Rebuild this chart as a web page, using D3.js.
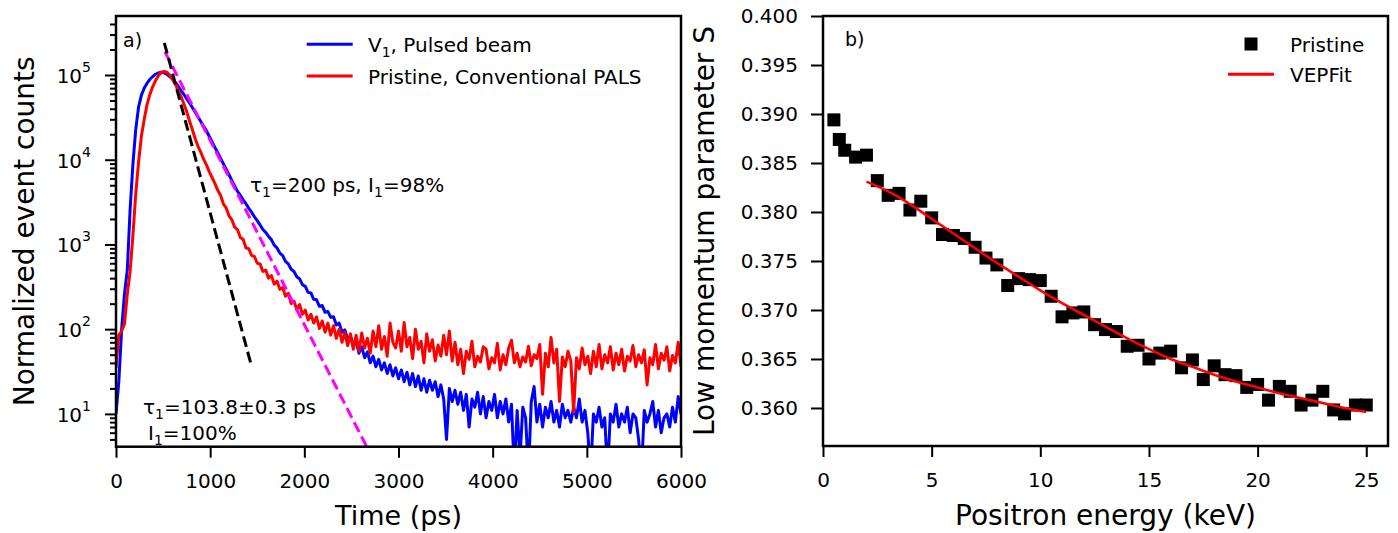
<!DOCTYPE html>
<html><head><meta charset="utf-8">
<script src="https://cdn.jsdelivr.net/npm/d3@7"></script>
<style>
body{margin:0;background:#fff}
svg text{font-family:"DejaVu Sans",sans-serif;fill:#000}
</style>
</head><body>
<svg id="chart" width="1398" height="533"></svg>
<script>
// ---------------- Panel a) data ----------------
const timePs = [
 0,30,60,90,120,150,180,210,240,270,
 300,330,360,390,420,450,480,510,540,570,
 600,630,660,690,720,750,780,810,840,870,
 900,930,960,990,1020,1050,1080,1110,1140,1170,
 1200,1230,1260,1290,1320,1350,1380,1410,1440,1470,
 1500,1530,1560,1590,1620,1650,1680,1710,1740,1770,
 1800,1830,1860,1890,1920,1950,1980,2010,2040,2070,
 2100,2130,2160,2190,2220,2250,2280,2310,2340,2370,
 2400,2430,2460,2490,2520,2550,2580,2610,2640,2670,
 2700,2730,2760,2790,2820,2850,2880,2910,2940,2970,
 3000,3030,3060,3090,3120,3150,3180,3210,3240,3270,
 3300,3330,3360,3390,3420,3450,3480,3510,3540,3570,
 3600,3630,3660,3690,3720,3750,3780,3810,3840,3870,
 3900,3930,3960,3990,4020,4050,4080,4110,4140,4170,
 4200,4230,4260,4290,4320,4350,4380,4410,4440,4470,
 4500,4530,4560,4590,4620,4650,4680,4710,4740,4770,
 4800,4830,4860,4890,4920,4950,4980,5010,5040,5070,
 5100,5130,5160,5190,5220,5250,5280,5310,5340,5370,
 5400,5430,5460,5490,5520,5550,5580,5610,5640,5670,
 5700,5730,5760,5790,5820,5850,5880,5910,5940,5970,
 6000
];
const v1PulsedCounts = [
 10,24,100,260,500,2600,9000,23000,42000,58000,
 70000,80000,89000,96000,102000,106000,108000,106000,102000,96000,
 89000,82000,74000,66000,59200,52700,47000,41400,36500,32100,
 28300,24900,22000,18900,16300,14000,12100,10400,8950,7710,
 6640,5710,4910,4230,3810,3360,3030,2670,2400,2120,
 1910,1700,1500,1390,1240,1140,980,910,790,740,
 630,590,510,480,415,392,335,320,272,268,
 225,222,186,190,158,162,138,140,112,118,
 92,98,76,82,64,72,52,62,46,54,
 40,48,36,44,33,40,30,38,28,35,
 26,33,24,31,22,30,21,28,19,26,
 18,25,19,24,16,22,15,5,20,14,
 19,13,18,11,17,7,15,12,18,10,
 16,9,14,11,17,9,14,10,15,8,
 13,2,11,3,12,9,2,14,21,8,
 13,7,12,9,14,8,11,7,13,9,
 11,8,12,9,15,8,11,6,2,10,
 8,12,7,9,2,10,8,13,7,10,
 8,12,6,10,9,5,2,11,8,10,
 14,7,11,6,9,10,7,12,8,16,
 10
];
const pristineConvCounts = [
 35,85,95,115,260,480,1300,4000,9500,19000,
 30000,45000,59000,73000,86000,98000,107000,110000,108000,100000,
 89000,78000,66000,56000,45700,37200,28800,22900,17800,14500,
 12300,10200,8700,7240,6170,5250,4370,3800,3020,2700,
 2180,1960,1600,1500,1210,1150,910,890,740,720,
 600,590,480,500,400,430,340,370,295,310,
 245,265,200,215,170,195,150,168,128,150,
 118,140,102,125,92,118,85,110,78,100,
 70,92,64,88,58,85,55,90,60,78,
 52,95,62,110,58,82,48,118,70,60,
 95,55,120,62,80,45,100,58,72,40,
 88,55,75,42,65,48,85,50,95,42,
 70,38,58,30,55,44,72,36,48,41,
 62,58,34,46,40,68,33,50,38,60,
 74,40,52,36,47,41,63,37,50,45,
 66,17,52,36,80,40,58,14,47,36,
 55,42,10.5,46,34,60,38,48,30,55,
 36,66,34,50,40,62,33,52,38,58,
 32,48,42,64,36,50,40,57,22,46,
 38,66,34,52,43,62,32,49,40,70,
 36
];
// single-exponential guide lines: [time ps, counts]
const fastFitLine = [[513, 240000], [1441, 36]];   // tau1 = 103.8 ps
const slowFitLine = [[520, 188000], [2662, 4.1]];  // tau1 = 200 ps
const timeTicks = [0, 1000, 2000, 3000, 4000, 5000, 6000];
const countTicks = [10, 100, 1000, 10000, 100000];
const countTickExp = ["1", "2", "3", "4", "5"];

// ---------------- Panel b) data ----------------
const energyKeV = [
 0.5,0.75,1.0,1.5,2.0,2.5,3.0,3.5,4.0,4.5,
 5.0,5.5,6.0,6.5,7.0,7.5,8.0,8.5,9.0,9.5,
 10.0,10.5,11.0,11.5,12.0,12.5,13.0,13.5,14.0,14.5,
 15.0,15.5,16.0,16.5,17.0,17.5,18.0,18.5,19.0,19.5,
 20.0,20.5,21.0,21.5,22.0,22.5,23.0,23.5,24.0,24.5,25.0
];
const sParam = [
 0.3894,0.3874,0.3863,0.3856,0.3858,0.3832,0.3817,0.3819,0.3802,0.3811,
 0.3794,0.3777,0.3776,0.3773,0.3764,0.3753,0.3746,0.3725,0.3732,0.3731,
 0.3730,0.3714,0.3693,0.3697,0.3698,0.3685,0.3680,0.3678,0.3663,0.3664,
 0.3650,0.3656,0.3658,0.3641,0.3649,0.3629,0.3643,0.3634,0.3633,0.3621,
 0.3624,0.3608,0.3622,0.3617,0.3603,0.3608,0.3617,0.3598,0.3594,0.3603,0.3603
];
const fitEnergyKeV = [2,3,4,5,6,7,8,9,10,11,12,13,14,15,16,17,18,19,20,21,22,23,24,25];
const fitS = [
 0.3831,0.3821,0.3808,0.3793,0.3778,0.3763,0.3748,0.3734,0.3720,0.3707,
 0.3695,0.3683,0.3671,0.3660,0.3650,0.3642,0.3634,0.3627,0.3621,0.3615,
 0.3610,0.3605,0.3600,0.3596
];
const energyTicks = [0, 5, 10, 15, 20, 25];
const sTicks = [0.360, 0.365, 0.370, 0.375, 0.380, 0.385, 0.390, 0.395, 0.400];

// ---------------- layout ----------------
const svg = d3.select("#chart");
const PA = {x0: 116, x1: 681, y0: 16, y1: 446.7};
const PB = {x0: 823, x1: 1388, y0: 16, y1: 446};

const xT = d3.scaleLinear().domain([0, 6000]).range([PA.x0, PA.x1]);
const yC = d3.scaleLog().domain([4.1, 4.97e5]).range([PA.y1, PA.y0]);
const xE = d3.scaleLinear().domain([0, 26]).range([PB.x0, PB.x1]);
const yS = d3.scaleLinear().domain([0.35612, 0.400]).range([PB.y1, PB.y0]);

const defs = svg.append("defs");
defs.append("clipPath").attr("id", "clipA").append("rect")
  .attr("x", PA.x0).attr("y", PA.y0).attr("width", PA.x1 - PA.x0).attr("height", PA.y1 - PA.y0);
defs.append("clipPath").attr("id", "clipB").append("rect")
  .attr("x", PB.x0).attr("y", PB.y0).attr("width", PB.x1 - PB.x0).attr("height", PB.y1 - PB.y0);

function styleAxis(g) {
  g.select(".domain").remove();
  g.selectAll(".tick line").attr("stroke", "#000").attr("stroke-width", 2);
  g.selectAll(".tick text").attr("font-size", 20).attr("fill", "#000")
    .attr("font-family", "DejaVu Sans");
}

// text helper: parts = [[text, "n"|"sub"|"sup"], ...]
function richText(g, x, y, parts, size, color, anchor) {
  const t = g.append("text").attr("x", x).attr("y", y).attr("font-size", size)
    .attr("fill", color || "#000").attr("text-anchor", anchor || "start");
  let shift = 0;
  parts.forEach(([s, kind]) => {
    let target = 0, fs = size;
    if (kind === "sub") { target = size * 0.26; fs = size * 0.7; }
    if (kind === "sup") { target = -size * 0.55; fs = size * 0.7; }
    t.append("tspan").attr("dy", target - shift).attr("font-size", fs).text(s);
    shift = target;
  });
  return t;
}

// ---------------- Panel a) ----------------
const gA = svg.append("g");
const seriesA = [
  {counts: v1PulsedCounts, color: "#0000ff"},
  {counts: pristineConvCounts, color: "#ff0000"}
];
const lineA = d3.line().x(d => xT(d[0])).y(d => yC(d[1]));
const plotA = gA.append("g").attr("clip-path", "url(#clipA)");
seriesA.forEach(s => {
  plotA.append("path").datum(timePs.map((t, i) => [t, s.counts[i]]))
    .attr("d", lineA).attr("fill", "none").attr("stroke", s.color)
    .attr("stroke-width", 3).attr("stroke-linejoin", "round");
});
plotA.append("path").datum(slowFitLine).attr("d", lineA).attr("fill", "none")
  .attr("stroke", "#ff00ff").attr("stroke-width", 3).attr("stroke-dasharray", "11,5");
plotA.append("path").datum(fastFitLine).attr("d", lineA).attr("fill", "none")
  .attr("stroke", "#000").attr("stroke-width", 3).attr("stroke-dasharray", "11,5");

// axes a)
gA.append("g").attr("transform", `translate(0,${PA.y1})`)
  .call(d3.axisBottom(xT).tickValues(timeTicks).tickSize(11).tickPadding(16).tickFormat(d3.format("d")))
  .call(styleAxis);
const minorCounts = [];
[0, 1, 2, 3, 4, 5].forEach(e => [2,3,4,5,6,7,8,9].forEach(m => {
  const v = m * Math.pow(10, e);
  if (v >= 4.1 && v <= 4.97e5) minorCounts.push(v);
}));
gA.append("g").attr("transform", `translate(${PA.x0},0)`)
  .call(d3.axisLeft(yC).tickValues(minorCounts).tickSize(6).tickFormat(""))
  .call(styleAxis);
gA.append("g").attr("transform", `translate(${PA.x0},0)`)
  .call(d3.axisLeft(yC).tickValues(countTicks).tickSize(11).tickFormat(""))
  .call(styleAxis);
countTicks.forEach((v, i) => {
  richText(gA, 91, yC(v) + 8, [["10", "n"], [countTickExp[i], "sup"]], 20, "#000", "end");
});
gA.append("rect").attr("x", PA.x0).attr("y", PA.y0)
  .attr("width", PA.x1 - PA.x0).attr("height", PA.y1 - PA.y0)
  .attr("fill", "none").attr("stroke", "#000").attr("stroke-width", 2.5);

gA.append("text").attr("x", PA.x0 + 7).attr("y", 47).attr("font-size", 19).text("a)");
richText(gA, 250, 192, [["τ", "n"], ["1", "sub"], ["=200 ps, I", "n"], ["1", "sub"], ["=98%", "n"]], 20, "#ff00ff");
richText(gA, 143, 414, [["τ", "n"], ["1", "sub"], ["=103.8±0.3 ps", "n"]], 20, "#000");
richText(gA, 148, 440, [["I", "n"], ["1", "sub"], ["=100%", "n"]], 20, "#000");

// legend a)
const legA = [
  {color: "#0000ff", parts: [["V", "n"], ["1", "sub"], [", Pulsed beam", "n"]], y: 44.3},
  {color: "#ff0000", parts: [["Pristine, Conventional PALS", "n"]], y: 76}
];
legA.forEach(l => {
  gA.append("line").attr("x1", 306.7).attr("x2", 352.7).attr("y1", l.y).attr("y2", l.y)
    .attr("stroke", l.color).attr("stroke-width", 3);
  richText(gA, 368, l.y + 7.5, l.parts, 20, "#000");
});

gA.append("text").attr("x", (PA.x0 + PA.x1) / 2).attr("y", 525).attr("font-size", 27)
  .attr("text-anchor", "middle").text("Time (ps)");
gA.append("text").attr("transform", `translate(34,${(PA.y0 + PA.y1) / 2}) rotate(-90)`)
  .attr("font-size", 28).attr("text-anchor", "middle").text("Normalized event counts");

// ---------------- Panel b) ----------------
const gB = svg.append("g");
const plotB = gB.append("g").attr("clip-path", "url(#clipB)");
plotB.selectAll("rect.pt").data(energyKeV.map((e, i) => [e, sParam[i]])).join("rect")
  .attr("class", "pt").attr("x", d => xE(d[0]) - 6.5).attr("y", d => yS(d[1]) - 6.5)
  .attr("width", 13).attr("height", 13).attr("fill", "#000");
plotB.append("path").datum(fitEnergyKeV.map((e, i) => [e, fitS[i]]))
  .attr("d", d3.line().x(d => xE(d[0])).y(d => yS(d[1])).curve(d3.curveMonotoneX))
  .attr("fill", "none").attr("stroke", "#ff0000").attr("stroke-width", 2.6);

gB.append("g").attr("transform", `translate(0,${PB.y1})`)
  .call(d3.axisBottom(xE).tickValues(energyTicks).tickSize(11).tickPadding(16).tickFormat(d3.format("d")))
  .call(styleAxis);
gB.append("g").attr("transform", `translate(${PB.x0},0)`)
  .call(d3.axisLeft(yS).tickValues(sTicks).tickSize(12).tickPadding(13).tickFormat(d3.format(".3f")))
  .call(styleAxis);
gB.append("rect").attr("x", PB.x0).attr("y", PB.y0)
  .attr("width", PB.x1 - PB.x0).attr("height", PB.y1 - PB.y0)
  .attr("fill", "none").attr("stroke", "#000").attr("stroke-width", 2.5);

gB.append("text").attr("x", 845).attr("y", 46).attr("font-size", 19).text("b)");

// legend b)
gB.append("rect").attr("x", 1251 - 6.5).attr("y", 44 - 6.5).attr("width", 13).attr("height", 13).attr("fill", "#000");
gB.append("text").attr("x", 1290).attr("y", 52).attr("font-size", 20).text("Pristine");
gB.append("line").attr("x1", 1228).attr("x2", 1274).attr("y1", 74.3).attr("y2", 74.3)
  .attr("stroke", "#ff0000").attr("stroke-width", 3);
gB.append("text").attr("x", 1290).attr("y", 82).attr("font-size", 20).text("VEPFit");

gB.append("text").attr("x", (PB.x0 + PB.x1) / 2).attr("y", 525).attr("font-size", 28)
  .attr("text-anchor", "middle").text("Positron energy (keV)");
gB.append("text").attr("transform", `translate(714,${(PB.y0 + PB.y1) / 2}) rotate(-90)`)
  .attr("font-size", 28).attr("text-anchor", "middle").text("Low momentum parameter S");
</script>
</body></html>
